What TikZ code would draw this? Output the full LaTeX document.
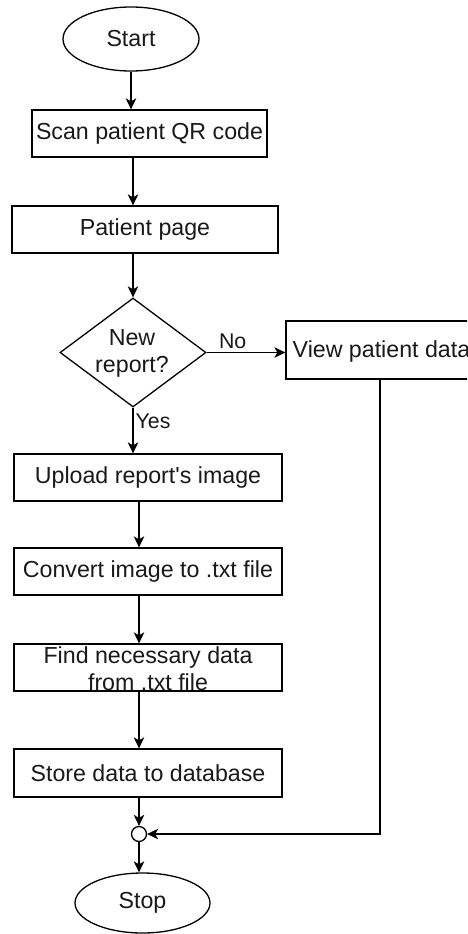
\documentclass[tikz,border=0pt]{standalone}
\usepackage{fontspec}
\setmainfont{Liberation Sans}[Ligatures=TeXOff]
\usetikzlibrary{shapes.geometric,arrows.meta}
\tikzset{
  every node/.style={font=\fontsize{23.2}{27}\selectfont, text=black!90},
  procbox/.style={draw, rectangle, line width=1.3pt, inner sep=0pt},
  termbox/.style={draw, ellipse, line width=1.3pt, inner sep=0pt},
  decbox/.style={draw, diamond, line width=1.3pt, inner sep=0pt},
  jnode/.style={draw, circle, line width=1.3pt, inner sep=0pt, minimum size=15pt, fill=white},
  lbl/.style={font=\fontsize{21.3}{24}\selectfont, inner sep=0pt},
  arr/.style={line width=1.3pt, -{Stealth[length=11pt,width=10.5pt,inset=3pt]}},
  ln/.style={line width=1.3pt}
}
\begin{document}
\begin{tikzpicture}[x=1pt,y=-1pt]
\clip (0,0) rectangle (467,934);
\fill[white] (0,0) rectangle (467,934);
% nodes
\node[termbox, minimum width=136pt, minimum height=64pt] (start) at (131,39) {Start};
\node[procbox, minimum width=235pt, minimum height=47pt] (scan) at (149.5,133.5) {Scan patient QR code};
\node[procbox, minimum width=266pt, minimum height=47pt] (page) at (145,229.5) {Patient page};
\node[decbox, minimum width=146pt, minimum height=109pt] (dec) at (133,352.5) {};
\node[align=center, inner sep=0pt] (dect) at (132,353) {New\\report?};
\node[procbox, minimum width=188pt, minimum height=58pt] (view) at (380,350) {};
\node[anchor=west, inner sep=0pt] (viewt) at (292.5,351) {View patient data};
\node[procbox, minimum width=268pt, minimum height=47pt] (upload) at (148,477.5) {Upload report's image};
\node[procbox, minimum width=268pt, minimum height=47pt] (convert) at (148,571.5) {Convert image to .txt file};
\node[procbox, minimum width=268pt, minimum height=47pt] (find) at (148,667.5) {};
\node[align=center, inner sep=0pt] (findt) at (148,669) {Find necessary data\\from .txt file};
\node[procbox, minimum width=268pt, minimum height=48pt] (store) at (148,773) {Store data to database};
\node[jnode] (jn) at (139,834) {};
\node[termbox, minimum width=135pt, minimum height=60pt] (stop) at (142.5,903) {Stop};
% connectors
\draw[arr] (start.south) -- (start.south |- scan.north);
\draw[arr] (scan.south -| dec.north) -- (page.north -| dec.north);
\draw[arr] (page.south -| dec.north) -- (dec.north);
\draw[arr] (dec.east) -- (dec.east -| view.west) node[lbl, pos=0.33, above=3pt] (nolbl) {No};
\draw[arr] (dec.south) -- (dec.south |- upload.north) node[lbl, pos=0.3, anchor=west, xshift=2pt] (yeslbl) {Yes};
\draw[arr] (upload.south -| jn) -- (convert.north -| jn);
\draw[arr] (convert.south -| jn) -- (find.north -| jn);
\draw[arr] (find.south -| jn) -- (store.north -| jn);
\draw[arr] (store.south -| jn) -- (jn.north);
\draw[arr] (jn.south) -- (jn.south |- stop.north);
\draw[arr] (view.south) |- (jn.east);
\end{tikzpicture}
\end{document}
